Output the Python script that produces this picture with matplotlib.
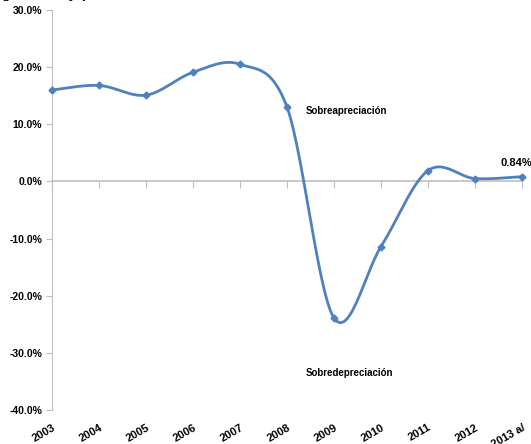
import numpy as np
import matplotlib.pyplot as plt
from matplotlib.ticker import FuncFormatter

years = ['2003', '2004', '2005', '2006', '2007', '2008', '2009', '2010', '2011', '2012', '2013 a/']
values = [16.0, 16.8, 15.1, 19.1, 20.5, 13.0, -23.9, -11.4, 1.9, 0.5, 0.84]

plt.rcParams['font.family'] = ['Liberation Sans Narrow', 'Liberation Sans', 'DejaVu Sans']
plt.rcParams['font.weight'] = 'bold'

blue = '#4F81BD'
grey = '#BFBFBF'

fig = plt.figure(figsize=(5.31, 4.44), dpi=100)
ax = fig.add_axes([52 / 531, 1 - 410 / 444, 470 / 531, 400 / 444])

x = np.arange(len(values), dtype=float)
y = np.array(values)

# Excel-like smoothed line: cubic bezier with 1/6 tangents, computed in pixel-ish units
sx, sy = 47.0, 5.7
px, py = x * sx, y * sy
P = np.column_stack([px, py])
P_ext = np.vstack([P[0], P, P[-1]])
curve = []
t = np.linspace(0, 1, 30)[:, None]
for i in range(len(P) - 1):
    p0, p1, p2, p3 = P_ext[i], P_ext[i + 1], P_ext[i + 2], P_ext[i + 3]
    c1 = p1 + (p2 - p0) / 6
    c2 = p2 - (p3 - p1) / 6
    seg = ((1 - t) ** 3) * p1 + 3 * ((1 - t) ** 2) * t * c1 + 3 * (1 - t) * t ** 2 * c2 + t ** 3 * p2
    curve.append(seg)
curve = np.vstack(curve)
ax.plot(curve[:, 0] / sx, curve[:, 1] / sy, color=blue, lw=2, clip_on=False, zorder=3)
ax.plot(x, y, linestyle='none', marker='D', ms=3.5, color=blue, clip_on=False, zorder=4)

ax.set_xlim(0, len(values) - 1)
ax.set_ylim(-40, 30)
ax.set_yticks(np.arange(-40, 31, 10))
ax.yaxis.set_major_formatter(FuncFormatter(lambda v, p: f'{v:.1f}%'))
ax.tick_params(axis='y', direction='out', length=4, color=grey, labelsize=7.5, pad=3)

for s in ['top', 'right', 'bottom']:
    ax.spines[s].set_visible(False)
ax.spines['left'].set_color(grey)

ax.set_xticks(x)
ax.set_xticklabels(years, rotation=30, ha='right', rotation_mode='anchor', fontsize=8)
ax.tick_params(axis='x', length=0, pad=9)

# zero line with its tick marks
sec = ax.secondary_xaxis(0, transform=ax.transData)
sec.set_xticks(x)
sec.set_xticklabels([])
sec.tick_params(direction='out', length=5, color=grey)
sec.spines['bottom'].set_color(grey)
sec.spines['bottom'].set_linewidth(1.2)

ax.annotate(f'{values[-1]:.2f}%', (x[-1], y[-1]), xytext=(-4, 8), textcoords='offset points',
            ha='center', fontsize=8, annotation_clip=False)
ax.text(5.4, 12.4, 'Sobreapreciación', fontsize=7, va='center')
ax.text(5.4, -33.6, 'Sobredepreciación', fontsize=7, va='center')

fig.text(0.0, 1 + 2 / 444, '(porcentaje)', fontsize=11, ha='left', va='baseline')

fig.savefig('out.png', dpi=100)
